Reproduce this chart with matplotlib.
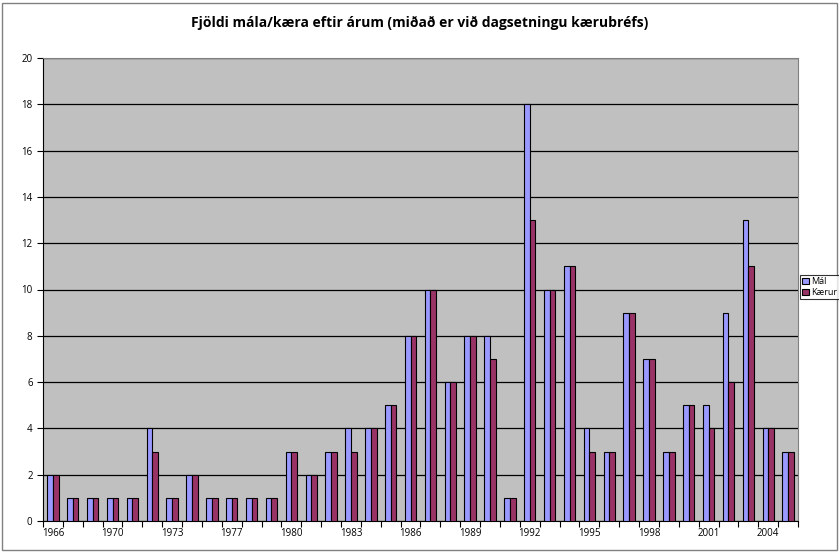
import matplotlib.pyplot as plt
import numpy as np
from matplotlib.patches import Rectangle

plt.rcParams['font.family'] = ['Open Sans', 'DejaVu Sans']

# Ár (aðeins hvert þriðja ár birtist á ásnum)
years = ['1966', '1967', '1968', '1970', '1971', '1972', '1973', '1974', '1975',
         '1977', '1978', '1979', '1980', '1981', '1982', '1983', '1984', '1985',
         '1986', '1987', '1988', '1989', '1990', '1991', '1992', '1993', '1994',
         '1995', '1996', '1997', '1998', '1999', '2000', '2001', '2002', '2003',
         '2004', '2005']
mal = [2, 1, 1, 1, 1, 4, 1, 2, 1, 1, 1, 1, 3, 2, 3, 4, 4, 5, 8, 10, 6, 8, 8, 1,
       18, 10, 11, 4, 3, 9, 7, 3, 5, 5, 9, 13, 4, 3]
kaerur = [2, 1, 1, 1, 1, 3, 1, 2, 1, 1, 1, 1, 3, 2, 3, 3, 4, 5, 8, 10, 6, 8, 7, 1,
          13, 10, 11, 3, 3, 9, 7, 3, 5, 4, 6, 11, 4, 3]

fig = plt.figure(figsize=(8.39, 5.52), dpi=100)
ax = fig.add_axes([43 / 839, 1 - 521 / 552, 755 / 839, 463 / 552])
ax.set_facecolor('#C0C0C0')

x = np.arange(len(years))
w = 1 / 3.5
ax.bar(x - w / 2, mal, w, color='#9999FF', edgecolor='black', linewidth=0.8, label='Mál', zorder=3)
ax.bar(x + w / 2, kaerur, w, color='#993366', edgecolor='black', linewidth=0.8, label='Kærur', zorder=3)

ax.set_xlim(-0.5, len(years) - 0.5)
ax.set_ylim(0, 20)
ax.set_yticks(np.arange(0, 21, 2))
ax.yaxis.grid(True, color='black', linewidth=0.9, zorder=1)

# merki milli flokka, en merkingar á hverjum þriðja flokki
ax.set_xticks(x[::3])
ax.set_xticklabels(years[::3])
ax.tick_params(axis='x', which='major', length=0, labelsize=7, pad=5)
ax.set_xticks(np.arange(-0.5, len(years), 1), minor=True)
ax.tick_params(axis='x', which='minor', length=4, width=0.8, direction='out')
ax.tick_params(axis='y', labelsize=7, length=4, width=0.8)

for side in ['top', 'right']:
    ax.spines[side].set_color('#808080')
for side in ['left', 'bottom']:
    ax.spines[side].set_color('black')

fig.text(0.5, 1 - 23 / 552, 'Fjöldi mála/kæra eftir árum (miðað er við dagsetningu kærubréfs)',
         ha='center', va='center', fontsize=10, fontweight='bold')

leg = fig.legend(loc='upper left', bbox_to_anchor=(800 / 839, 1 - 275 / 552), fontsize=6.5,
                 frameon=True, fancybox=False, edgecolor='black', borderpad=0.25,
                 borderaxespad=0, handlelength=0.7, handleheight=0.7, handletextpad=0.25,
                 labelspacing=0.2)
leg.get_frame().set_linewidth(0.8)

fig.patches.append(Rectangle((2 / 839, 2 / 552), 835 / 839, 547 / 552, transform=fig.transFigure,
                             fill=False, edgecolor='#808080', linewidth=1))

fig.savefig('out.png', dpi=100)
